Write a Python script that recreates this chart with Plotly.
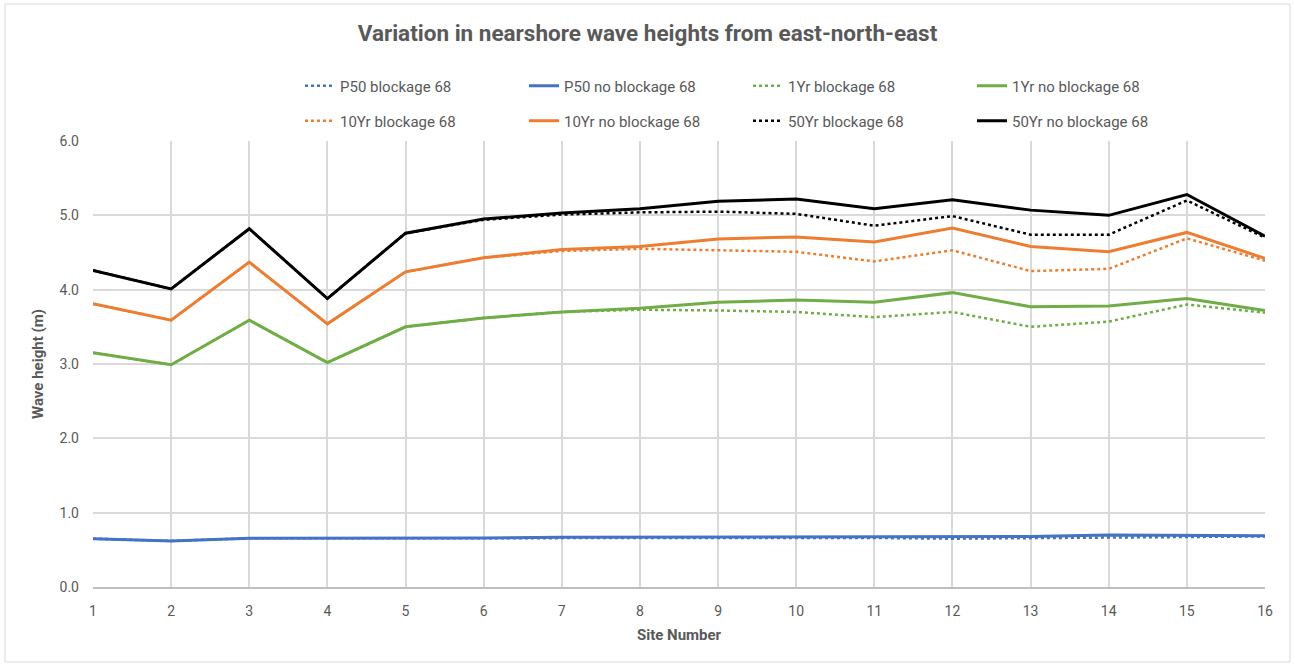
import plotly.graph_objects as go

sites = list(range(1, 17))

p50_blockage = [0.65, 0.62, 0.655, 0.655, 0.66, 0.66, 0.665, 0.665, 0.66, 0.66, 0.66, 0.65, 0.66, 0.67, 0.68, 0.68]
p50_no_blockage = [0.65, 0.62, 0.655, 0.655, 0.66, 0.66, 0.67, 0.67, 0.68, 0.68, 0.68, 0.68, 0.68, 0.70, 0.69, 0.69]
yr1_blockage = [3.15, 2.99, 3.59, 3.02, 3.50, 3.62, 3.70, 3.73, 3.72, 3.70, 3.63, 3.70, 3.50, 3.57, 3.80, 3.69]
yr1_no_blockage = [3.15, 2.99, 3.59, 3.02, 3.50, 3.62, 3.70, 3.75, 3.83, 3.86, 3.83, 3.96, 3.77, 3.78, 3.88, 3.72]
yr10_blockage = [3.81, 3.59, 4.37, 3.54, 4.24, 4.43, 4.52, 4.55, 4.53, 4.51, 4.38, 4.53, 4.25, 4.28, 4.69, 4.39]
yr10_no_blockage = [3.81, 3.59, 4.37, 3.54, 4.24, 4.43, 4.54, 4.58, 4.68, 4.71, 4.64, 4.83, 4.58, 4.51, 4.77, 4.42]
yr50_blockage = [4.26, 4.01, 4.82, 3.88, 4.76, 4.94, 5.01, 5.04, 5.05, 5.02, 4.86, 4.99, 4.74, 4.74, 5.20, 4.70]
yr50_no_blockage = [4.26, 4.01, 4.82, 3.88, 4.76, 4.95, 5.03, 5.09, 5.19, 5.22, 5.09, 5.21, 5.07, 5.00, 5.28, 4.72]

y_ticks = [0, 1, 2, 3, 4, 5, 6]
y_tick_labels = ["0.0", "1.0", "2.0", "3.0", "4.0", "5.0", "6.0"]

BLUE = "#4472C4"
GREEN = "#70AD47"
ORANGE = "#ED7D31"
BLACK = "#000000"
TEXT = "#595959"
GRID = "#D9D9D9"
FONT = "Roboto, Lato, sans-serif"

series = [
    ("P50 blockage 68", p50_blockage, BLUE, "dot", "legend"),
    ("P50 no blockage 68", p50_no_blockage, BLUE, "solid", "legend"),
    ("1Yr blockage 68", yr1_blockage, GREEN, "dot", "legend"),
    ("1Yr no blockage 68", yr1_no_blockage, GREEN, "solid", "legend"),
    ("10Yr blockage 68", yr10_blockage, ORANGE, "dot", "legend2"),
    ("10Yr no blockage 68", yr10_no_blockage, ORANGE, "solid", "legend2"),
    ("50Yr blockage 68", yr50_blockage, BLACK, "dot", "legend2"),
    ("50Yr no blockage 68", yr50_no_blockage, BLACK, "solid", "legend2"),
]

fig = go.Figure()
for name, values, color, dash, leg in series:
    fig.add_trace(go.Scatter(
        x=sites, y=values, name=name, mode="lines",
        line=dict(color=color, width=3 if dash == "solid" else 2.5, dash=dash),
        legend=leg,
    ))

legend_common = dict(
    orientation="h", xanchor="left", yanchor="middle",
    entrywidth=179, entrywidthmode="pixels",
    font=dict(family=FONT, size=15, color=TEXT),
    bgcolor="rgba(0,0,0,0)", itemclick=False,
)

fig.update_layout(
    width=1295, height=666,
    margin=dict(l=93, r=30, t=141, b=79),
    paper_bgcolor="white", plot_bgcolor="white",
    font=dict(family=FONT, color=TEXT),
    title=dict(
        text="<b>Variation in nearshore wave heights from east-north-east</b>",
        x=0.5, xanchor="center", y=1 - 33 / 666, yanchor="middle",
        font=dict(family=FONT, size=22.5, color=TEXT),
    ),
    legend=dict(legend_common, x=(300 - 93) / 1172, y=(587 - 86) / 446),
    legend2=dict(legend_common, x=(300 - 93) / 1172, y=(587 - 121) / 446),
    xaxis=dict(
        range=[1, 16], tickmode="array", tickvals=sites,
        showgrid=True, gridcolor=GRID, gridwidth=1.5,
        showline=True, linecolor="#BFBFBF", linewidth=1.5,
        zeroline=False, ticks="", ticklabelstandoff=10,
        tickfont=dict(family=FONT, size=14, color=TEXT),
        title=dict(text="<b>Site Number</b>", font=dict(family=FONT, size=15, color=TEXT), standoff=12),
    ),
    yaxis=dict(
        range=[0, 6], tickmode="array", tickvals=y_ticks, ticktext=y_tick_labels,
        showgrid=True, gridcolor=GRID, gridwidth=1.5,
        zeroline=False, ticks="", ticklabelstandoff=13,
        tickfont=dict(family=FONT, size=14, color=TEXT),
        title=dict(text="<b>Wave height (m)</b>", font=dict(family=FONT, size=15, color=TEXT), standoff=12),
    ),
    showlegend=True,
)

# outer chart frame
fig.add_shape(
    type="rect", xref="paper", yref="paper",
    x0=(5 - 93) / 1172, x1=(1290 - 93) / 1172,
    y0=(587 - 662) / 446, y1=(587 - 4) / 446,
    line=dict(color="#D9D9D9", width=1), fillcolor="rgba(0,0,0,0)", layer="below",
)

fig.write_html("out.html")
